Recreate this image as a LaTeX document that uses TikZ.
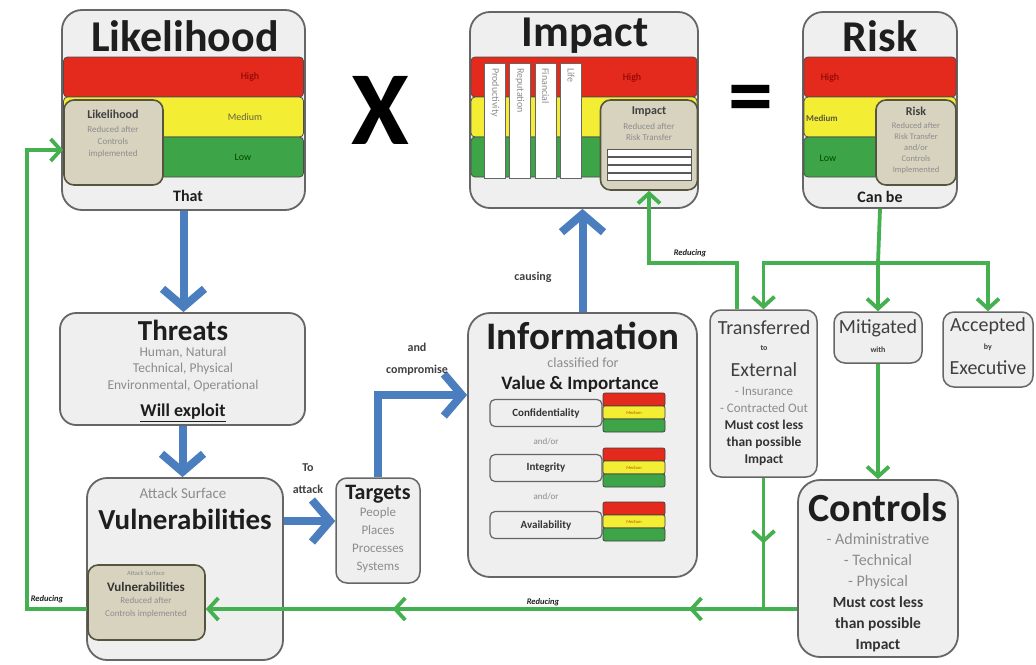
\documentclass[tikz,border=0pt]{standalone}
\usepackage{fontspec}
\setmainfont{Carlito}
\usetikzlibrary{arrows.meta,decorations.markings}

\definecolor{boxfill}{HTML}{EFEFEF}
\definecolor{boxline}{HTML}{666666}
\definecolor{tanfill}{HTML}{D8D3BF}
\definecolor{tanline}{HTML}{55553F}
\definecolor{bandred}{HTML}{E42A1D}
\definecolor{bandyel}{HTML}{F3EE33}
\definecolor{bandgrn}{HTML}{3DA447}
\definecolor{flowblue}{HTML}{4A7EBE}
\definecolor{flowgrn}{HTML}{45B04F}
\definecolor{softtext}{HTML}{8C8C8C}
\definecolor{darktext}{HTML}{1E1E1E}

\newcommand\myfs[2]{\fontsize{#1}{#2}\selectfont}

\tikzset{
  panel/.style={draw=boxline, line width=1.8pt, fill=boxfill, rounded corners=20pt, inner sep=0pt},
  smallpanel/.style={draw=boxline, line width=1.5pt, fill=boxfill, rounded corners=11pt, inner sep=0pt},
  tanbox/.style={draw=tanline, line width=1.6pt, fill=tanfill, rounded corners=10pt, inner sep=0pt},
  band/.style={draw=black!70, line width=0.8pt, rounded corners=4pt, inner sep=0pt, minimum height=40pt},
  miniband/.style={draw=black!75, line width=0.7pt, rounded corners=2pt, inner sep=0pt, minimum width=62pt, minimum height=13pt},
  column/.style={draw=boxline, line width=1pt, fill=white, inner sep=0pt, minimum width=21pt, minimum height=115pt},
  strip/.style={draw=black!65, line width=0.8pt, fill=white, inner sep=0pt, minimum width=84pt, minimum height=7pt},
  rowbox/.style={draw=boxline, line width=1.2pt, fill=boxfill, rounded corners=5pt, inner sep=0pt, minimum width=112pt, minimum height=27pt},
  txt/.style={inner sep=0pt, text=darktext, align=center},
  soft/.style={inner sep=0pt, text=softtext, align=center},
  bandlbl/.style={inner sep=0pt, font=\myfs{10}{10}},
  flowlbl/.style={inner sep=0pt, text=darktext!85, align=center, font=\myfs{12}{22}\bfseries},
  reducelbl/.style={inner sep=0pt, text=darktext, font=\myfs{8.5}{9}\bfseries\itshape},
  bluearrow/.style={draw=flowblue, line width=8pt, -{Straight Barb[length=18pt,width=42pt]}},
  greenline/.style={draw=flowgrn, line width=3.8pt},
  greenarrow/.style={greenline, -{Straight Barb[length=10pt,width=22pt]}},
  midtips/.style={postaction={decorate}, decoration={markings,
      mark=at position #1 with {\arrow{Straight Barb[length=10pt,width=22pt]}}}},
}

\begin{document}
\begin{tikzpicture}[x=1pt, y=-1pt]
\useasboundingbox (0,0) rectangle (1036,664);
\fill[white] (0,0) rectangle (1036,664);

% ---------- Likelihood ----------
\node[panel, minimum width=243pt, minimum height=200pt] (lik) at (183.5,110) {};
\node[band, fill=bandred, minimum width=240pt] (likH) at (183.5,77) {};
\node[band, fill=bandyel, minimum width=240pt] (likM) at (183.5,117) {};
\node[band, fill=bandgrn, minimum width=240pt] (likL) at (183.5,157) {};
\node[txt, font=\myfs{44}{44}\bfseries] (likT) at (185,36) {Likelihood};
\node[bandlbl, text=red!50!black] (likHt) at (250,77) {High};
\node[bandlbl, text=black!70!yellow] (likMt) at (245,117) {Medium};
\node[bandlbl, text=green!30!black] (likLt) at (243,157) {Low};
\node[tanbox, minimum width=99pt, minimum height=85pt] (lin) at (113.5,142.5) {};
\node[txt, font=\myfs{12}{12}\bfseries, text=black!75] (linT) at (113,114) {Likelihood};
\node[soft, font=\myfs{9}{12}] (linS) at (113,142) {Reduced after\\Controls\\implemented};
\node[txt, font=\myfs{16}{16}\bfseries] (that) at (188,196) {That};

% ---------- operators ----------
\node[txt, font=\myfs{105}{105}\bfseries, text=black] (times) at (380,110) {X};
\node[txt, font=\myfs{90}{90}\bfseries, text=black] (equals) at (751,105) {=};

% ---------- Impact ----------
\node[panel, minimum width=228pt, minimum height=196pt] (imp) at (584,110) {};
\node[band, fill=bandred, minimum width=226pt] (impH) at (584,77) {};
\node[band, fill=bandyel, minimum width=226pt] (impM) at (584,117) {};
\node[band, fill=bandgrn, minimum width=226pt] (impL) at (584,157) {};
\node[txt, font=\myfs{44}{44}\bfseries] (impT) at (585,36) {Impact};
\node[bandlbl, text=red!50!black] (impHt) at (632,78) {High};
\node[column] (col1) at (495,120.5) {};
\node[column] (col2) at (520,120.5) {};
\node[column] (col3) at (545.5,120.5) {};
\node[column] (col4) at (571,120.5) {};
\node[soft, rotate=-90, anchor=west, font=\myfs{10}{10}] (col1t) at (495,68) {Productivity};
\node[soft, rotate=-90, anchor=west, font=\myfs{10}{10}] (col2t) at (520,68) {Reputation};
\node[soft, rotate=-90, anchor=west, font=\myfs{10}{10}] (col3t) at (545.5,68) {Financial};
\node[soft, rotate=-90, anchor=west, font=\myfs{10}{10}] (col4t) at (571,68) {Life};
\node[tanbox, minimum width=97pt, minimum height=90pt] (iin) at (649,145) {};
\node[txt, font=\myfs{12}{12}\bfseries, text=black!75] (iinT) at (649,112) {Impact};
\node[soft, font=\myfs{9}{11}] (iinS) at (649,132) {Reduced after\\Risk Transfer};
\node[strip] (st1) at (649,153) {};
\node[strip] (st2) at (649,161) {};
\node[strip] (st3) at (649,169) {};
\node[strip] (st4) at (649,177) {};

% ---------- Risk ----------
\node[panel, minimum width=154pt, minimum height=196pt] (risk) at (880,110) {};
\node[band, fill=bandred, minimum width=152pt] (riskH) at (880,77) {};
\node[band, fill=bandyel, minimum width=152pt] (riskM) at (880,117) {};
\node[band, fill=bandgrn, minimum width=152pt] (riskL) at (880,157) {};
\node[txt, font=\myfs{44}{44}\bfseries] (riskT) at (880,36) {Risk};
\node[bandlbl, text=red!50!black] (riskHt) at (830,78) {High};
\node[bandlbl, text=black!75!yellow, font=\myfs{9}{9}\bfseries] (riskMt) at (822,118) {Medium};
\node[bandlbl, text=green!30!black] (riskLt) at (828,158) {Low};
\node[tanbox, minimum width=80pt, minimum height=85pt] (rin) at (916,142.5) {};
\node[txt, font=\myfs{12}{12}\bfseries, text=black!75] (rinT) at (916,111) {Risk};
\node[soft, font=\myfs{8.5}{11}] (rinS) at (916,148) {Reduced after\\Risk Transfer\\and/or\\Controls\\Implemented};
\node[txt, font=\myfs{16}{16}\bfseries] (canbe) at (880,197) {Can be};

% ---------- Threats ----------
\node[panel, rounded corners=16pt, minimum width=245pt, minimum height=112pt] (thr) at (182.5,369) {};
\node[txt, font=\myfs{29}{29}\bfseries] (thrT) at (183,330) {Threats};
\node[soft, font=\myfs{13.5}{16.5}] (thrS) at (183,369) {Human, Natural\\Technical, Physical\\Environmental, Operational};
\node[txt, font=\myfs{18}{18}\bfseries] (thrW) at (183,413) {\underline{Will exploit}};

% ---------- Vulnerabilities ----------
\node[panel, minimum width=196pt, minimum height=182pt] (vul) at (185,569) {};
\node[soft, font=\myfs{15}{15}] (vulA) at (183,493) {Attack Surface};
\node[txt, font=\myfs{29}{29}\bfseries] (vulT) at (185,519) {Vulnerabilities};
\node[tanbox, minimum width=117pt, minimum height=75pt] (vin) at (146.5,602.5) {};
\node[soft, font=\myfs{6.5}{6.5}] (vinA) at (146,573) {Attack Surface};
\node[txt, font=\myfs{13}{13}\bfseries, text=black!80] (vinT) at (146,587) {Vulnerabilities};
\node[soft, font=\myfs{9}{13}] (vinS) at (146,608) {Reduced after\\Controls implemented};

% ---------- Targets ----------
\node[smallpanel, minimum width=84pt, minimum height=105pt] (tgt) at (378,530.5) {};
\node[txt, font=\myfs{22}{22}\bfseries] (tgtT) at (378,494) {Targets};
\node[soft, font=\myfs{13}{18}] (tgtS) at (378,540) {People\\Places\\Processes\\Systems};

% ---------- Information ----------
\node[panel, rounded corners=22pt, minimum width=229pt, minimum height=264pt] (info) at (582.5,445) {};
\node[txt, font=\myfs{39}{39}\bfseries] (infoT) at (583,336) {Information};
\node[soft, font=\myfs{14}{14}] (infoC) at (583,363) {classified for};
\node[txt, font=\myfs{19}{19}\bfseries] (infoV) at (580,384) {Value \& Importance};
\node[rowbox] (conf) at (546,413) {};
\node[rowbox] (integ) at (546,468) {};
\node[rowbox] (avail) at (546,525) {};
\node[txt, font=\myfs{11}{11}\bfseries, text=black!80] (confT) at (546,413) {Confidentiality};
\node[txt, font=\myfs{11}{11}\bfseries, text=black!80] (integT) at (546,468) {Integrity};
\node[txt, font=\myfs{11}{11}\bfseries, text=black!80] (availT) at (546,525) {Availability};
\node[soft, font=\myfs{9}{9}] (or1) at (546,442) {and/or};
\node[soft, font=\myfs{9}{9}] (or2) at (546,497) {and/or};
\node[miniband, fill=bandred] (cR) at (634,399.5) {};
\node[miniband, fill=bandyel] (cY) at (634,412.5) {};
\node[miniband, fill=bandgrn] (cG) at (634,425.5) {};
\node[miniband, fill=bandred] (iR) at (634,454.5) {};
\node[miniband, fill=bandyel] (iY) at (634,467.5) {};
\node[miniband, fill=bandgrn] (iG) at (634,480.5) {};
\node[miniband, fill=bandred] (aR) at (634,508.5) {};
\node[miniband, fill=bandyel] (aY) at (634,521.5) {};
\node[miniband, fill=bandgrn] (aG) at (634,534.5) {};
\node[inner sep=0pt, font=\myfs{4.5}{4.5}, text=orange!70!black] (cYt) at (634,412.5) {Medium};
\node[inner sep=0pt, font=\myfs{4.5}{4.5}, text=orange!70!black] (iYt) at (634,467.5) {Medium};
\node[inner sep=0pt, font=\myfs{4.5}{4.5}, text=orange!70!black] (aYt) at (634,521.5) {Medium};

% ---------- Risk treatment ----------
\node[smallpanel, minimum width=107pt, minimum height=167pt] (trans) at (763.5,393.5) {};
\node[txt, font=\myfs{20}{20}, text=black!75] (transT) at (764,328) {Transferred};
\node[txt, font=\myfs{8}{8}\bfseries, text=black!75] (transTo) at (764,348) {to};
\node[txt, font=\myfs{20}{20}, text=black!75] (transE) at (764,370) {External};
\node[soft, font=\myfs{13}{16.5}] (transS) at (764,400) {- Insurance\\- Contracted Out};
\node[txt, font=\myfs{13.5}{17}\bfseries, text=black!80] (transM) at (764,443) {Must cost less\\than possible\\Impact};

\node[smallpanel, minimum width=88pt, minimum height=51pt] (mit) at (878,337.5) {};
\node[txt, font=\myfs{20}{20}, text=black!75] (mitT) at (878,328) {Mitigated};
\node[txt, font=\myfs{8}{8}\bfseries, text=black!75] (mitW) at (878,350) {with};

\node[smallpanel, minimum width=90pt, minimum height=75pt] (acc) at (988,349.5) {};
\node[txt, font=\myfs{20}{20}, text=black!75] (accT) at (988,326) {Accepted};
\node[txt, font=\myfs{8}{8}\bfseries, text=black!75] (accB) at (988,347) {by};
\node[txt, font=\myfs{20}{20}, text=black!75] (accE) at (988,368) {Executive};

% ---------- Controls ----------
\node[panel, rounded corners=22pt, minimum width=160pt, minimum height=177pt] (ctrl) at (878,568.5) {};
\node[txt, font=\myfs{40}{40}\bfseries] (ctrlT) at (878,508) {Controls};
\node[soft, font=\myfs{16}{21}] (ctrlS) at (878,561) {- Administrative\\- Technical\\- Physical};
\node[txt, font=\myfs{15.5}{21}\bfseries, text=black!80] (ctrlM) at (878,624) {Must cost less\\than possible\\Impact};

% ---------- routing points ----------
\coordinate (atk) at (0,521);
\coordinate (cmp) at (0,395);
\coordinate (jn) at (878,263);
\coordinate (tro) at (737,263);
\coordinate (rdc) at (649,263);
\coordinate (ybot) at (0,609);
\coordinate (lft) at (27,150);

% ---------- blue flow ----------
\draw[bluearrow] (lik.south) -- (lik.south |- thr.north);
\draw[bluearrow] (thr.south) -- (thr.south |- vul.north);
\draw[bluearrow] (vul.east |- atk) -- (tgt.west |- atk);
\draw[bluearrow] (tgt.north) |- (info.west |- cmp);
\draw[bluearrow] (info.north) -- (info.north |- imp.south);

\node[flowlbl] (toatk) at (308,479) {To\\attack};
\node[flowlbl] (andcmp) at (417,359) {and\\compromise};
\node[flowlbl] (causing) at (533,277) {causing};

% ---------- green flow ----------
\draw[greenline] (risk.south) -- (jn);
\draw[greenarrow] (jn) -| (trans.north);
\draw[greenarrow] (jn) -- (mit.north);
\draw[greenarrow] (jn) -| (acc.north);
\draw[greenarrow] (mit.south) -- (ctrl.north);
\draw[greenarrow] (trans.north -| tro) |- (rdc) -- (iin.south);
\draw[greenline, midtips=0.5] (trans.south) -- (trans.south |- ybot);
\draw[greenarrow, postaction={decorate}, decoration={markings,
    mark=at position 0.183 with {\arrow{Straight Barb[length=10pt,width=22pt]}},
    mark=at position 0.684 with {\arrow{Straight Barb[length=10pt,width=22pt]}}}]
  (ctrl.west |- ybot) -- (vin.east |- ybot);
\draw[greenarrow] (vin.west |- ybot) -| (lft) -- (lin.west |- lft);

\node[reducelbl] (red1) at (690,253) {Reducing};
\node[reducelbl] (red2) at (543,602) {Reducing};
\node[reducelbl] (red3) at (47,599) {Reducing};
\end{tikzpicture}
\end{document}
